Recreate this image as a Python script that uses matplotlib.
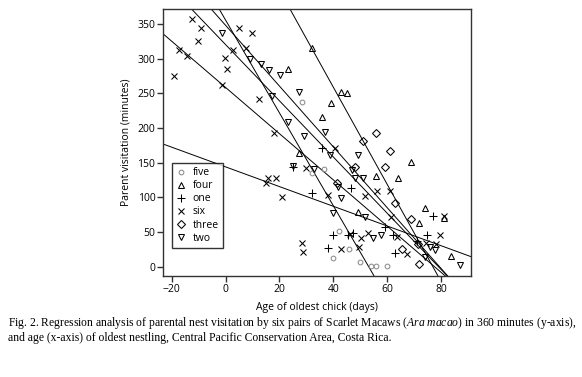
import numpy as np
import matplotlib
matplotlib.use("Agg")
import matplotlib.pyplot as plt

plt.rcParams["font.family"] = ["Open Sans", "DejaVu Sans"]
plt.rcParams["mathtext.fontset"] = "custom"
plt.rcParams["mathtext.rm"] = "Liberation Serif"
plt.rcParams["mathtext.it"] = "Liberation Serif:italic"

# ---- data (age in days, visitation in minutes) ----
five_x = [28.2, 32.2, 36.7, 42.0, 39.8, 45.9, 50.0, 54.0, 56.0, 59.8]
five_y = [238, 135, 140.8, 50.8, 12.1, 25.2, 6.5, 1.2, 1.2, 1.2]

four_x = [23.2, 32.1, 42.8, 45.1, 39.0, 35.8, 27.2, 56.0, 64.0, 69.0,
          49.2, 73.9, 81.1, 72.0, 83.8]
four_y = [284.6, 316, 252.4, 250, 235.6, 216.3, 163.5, 130.8, 127.5, 151.5,
          79.3, 84.2, 70.5, 63.5, 15.4]

one_x = [35.8, 25.1, 32.0, 46.7, 39.8, 45.3, 47.3, 38.1, 59.1, 62.3,
         62.8, 71.0, 74.7, 77.0]
one_y = [171, 143.3, 106, 113, 46, 46, 49, 26.5, 57.3, 45.5,
         19.3, 36.5, 46.2, 73.3]

six_x = [-12.4, -9.0, -10.2, -17.3, -14.3, -19.3, 5.0, 9.9, 2.7, 7.4,
         -0.3, 0.6, -1.2, 12.3, 18.0, 15.8, 18.7, 15.0, 21.0, 29.8,
         40.8, 38.1, 51.8, 56.3, 61.1, 61.4, 52.9, 50.4, 28.2, 28.8,
         42.7, 49.6, 67.4, 74.4, 78.3, 79.8, 81.3, 63.5, 46.1]
six_y = [357, 344, 326, 313, 304, 275, 344, 337, 312.5, 315,
         300.5, 285, 262.5, 242, 193, 127.5, 127.5, 120.3, 100, 142.5,
         171.5, 103.4, 102, 109.5, 109, 71.6, 49, 41, 33.7, 20.8,
         26, 28, 18, 33.7, 32.3, 45, 73, 43, 46.7]

three_x = [51.0, 56.0, 61.0, 59.1, 48.2, 41.3, 63.0, 68.8, 71.4, 65.4, 71.8]
three_y = [181, 192.5, 166.5, 144.2, 144, 120.3, 92, 68.6, 32.3, 26, 4.4]

two_x = [-1.2, 9.1, 13.1, 16.1, 20.3, 17.1, 27.3, 23.0, 29.1, 37.0,
         25.0, 32.7, 38.7, 49.0, 47.1, 48.0, 51.0, 41.8, 42.9, 39.9,
         51.9, 54.8, 57.9, 75.8, 77.8, 73.9, 87.1]
two_y = [337, 299.5, 292, 283, 276, 245.5, 252, 208.5, 188.5, 194,
         144.5, 141, 160.5, 160.5, 139.5, 127.5, 127.5, 115.5, 99.7, 78,
         72, 42, 45.7, 28.7, 24, 13.7, 2.3]

# regression lines: intercept at age 0 and slope (minutes per day)
fit_names = ["five", "four", "one", "six", "three", "two"]
fit_intercept = [355.5, 348.0, 143.9, 258.4, 538.9, 320.2]
fit_slope = [-6.69, -4.38, -1.42, -3.33, -7.0, -4.05]

series = [
    ("five", five_x, five_y, "o", "#8c8c8c", 3.4),
    ("four", four_x, four_y, "^", "black", 4.6),
    ("one", one_x, one_y, "+", "black", 6.0),
    ("six", six_x, six_y, "x", "black", 4.4),
    ("three", three_x, three_y, "D", "black", 3.6),
    ("two", two_x, two_y, "v", "black", 4.6),
]

fig = plt.figure(figsize=(5.82, 3.77), dpi=100)
ax = fig.add_axes([0.280, 0.268, 0.529, 0.708])

for b, m in zip(fit_intercept, fit_slope):
    ax.axline((0, b), slope=m, color="black", lw=0.7, zorder=2)

for name, xs, ys, mk, col, ms in series:
    ax.plot(xs, ys, linestyle="none", marker=mk, ms=ms,
            mfc="none" if mk not in ("+", "x") else col, mec=col,
            mew=0.75, label=name, zorder=3)

ax.set_xlim(-23.3, 91.1)
ax.set_ylim(-13.4, 371.6)
ax.set_xticks(np.arange(-20, 81, 20))
ax.set_yticks(np.arange(0, 351, 50))
ax.tick_params(direction="out", length=4, width=1, labelsize=7.5,
               pad=1.5, colors="#333333", labelcolor="black")
for sp in ax.spines.values():
    sp.set_linewidth(1.0)
    sp.set_color("#333333")

ax.set_xlabel("Age of oldest chick (days)", fontsize=7.5, labelpad=5)
ax.set_ylabel("Parent visitation (minutes)", fontsize=7.5, labelpad=4)

leg = ax.legend(loc="upper left", bbox_to_anchor=(0.029, 0.423),
                fontsize=7.5, frameon=True, fancybox=False, borderpad=0.4,
                handlelength=1.0, handletextpad=0.6, labelspacing=0.2,
                borderaxespad=0)
leg.get_frame().set_edgecolor("black")
leg.get_frame().set_linewidth(1.0)

cap1 = ("Fig. 2. Regression analysis of parental nest visitation by six pairs of "
        "Scarlet Macaws ($\\it{Ara\\ macao}$) in 360 minutes (y-axis),")
cap2 = ("and age (x-axis) of oldest nestling, Central Pacific Conservation Area, "
        "Costa Rica.")
fig.text(8 / 582, 1 - 323 / 377, cap1, fontsize=8.4,
         family="Liberation Serif", va="center", ha="left")
fig.text(8 / 582, 1 - 338 / 377, cap2, fontsize=8.4,
         family="Liberation Serif", va="center", ha="left")

fig.savefig("out.png", dpi=100)
